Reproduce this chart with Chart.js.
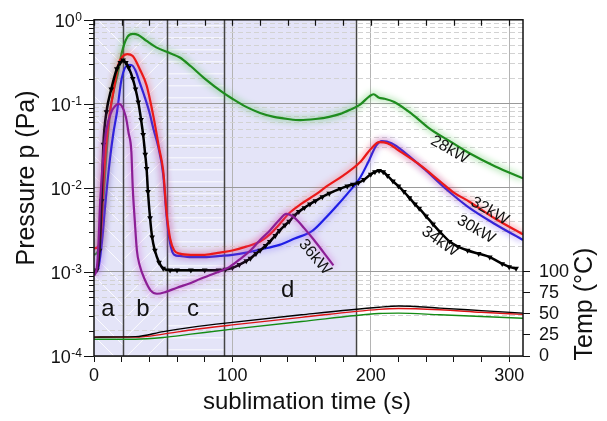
<!DOCTYPE html>
<html>
<head>
<meta charset="utf-8">
<script src="https://cdn.jsdelivr.net/npm/chart.js@4.4.0/dist/chart.umd.min.js"></script>
<style>
  html, body { margin: 0; padding: 0; background: #fff; }
</style>
</head>
<body>
<canvas id="myChart" width="607" height="421"></canvas>
<script>
// ---- data ----
// 28kW (green)
var t28 = [0, 3, 5, 7, 9, 11.5, 14, 17, 20, 24, 28, 32, 38, 45, 55, 62, 70, 80, 93, 100, 110, 120, 130, 140, 149, 160, 170, 178, 185, 192, 199, 202, 206, 210, 217, 230, 243, 257, 271, 290, 310];
var p28 = [1.6e-3, 1.8e-3, 3e-3, 8e-3, 0.025, 0.075, 0.14, 0.22, 0.4, 0.62, 0.68, 0.66, 0.56, 0.47, 0.4, 0.356, 0.28, 0.2, 0.137, 0.115, 0.092, 0.078, 0.07, 0.066, 0.064, 0.066, 0.07, 0.076, 0.085, 0.097, 0.123, 0.13, 0.118, 0.115, 0.105, 0.075, 0.05, 0.036, 0.026, 0.018, 0.013];
// 30kW (blue)
var t30 = [0, 3, 6, 8, 11.5, 14, 16.6, 20, 24.5, 27, 30, 33, 36, 40, 43, 46, 50, 52.5, 55, 58, 62, 69, 80, 91, 100, 110, 120, 134, 145, 158, 168, 175, 183, 192, 198, 204, 208, 215, 225, 240, 255, 270, 290, 310];
var p30 = [1e-3, 1.1e-3, 2.5e-3, 6e-3, 0.022, 0.045, 0.08, 0.2, 0.29, 0.29, 0.25, 0.18, 0.13, 0.08, 0.05, 0.033, 0.0145, 4.5e-3, 2.2e-3, 1.6e-3, 1.55e-3, 1.5e-3, 1.5e-3, 1.55e-3, 1.6e-3, 1.7e-3, 1.85e-3, 2.1e-3, 2.5e-3, 3.1e-3, 4.5e-3, 6e-3, 8.5e-3, 0.013, 0.02, 0.032, 0.036, 0.034, 0.026, 0.016, 9.5e-3, 6e-3, 3.7e-3, 2.4e-3];
// 32kW (red)
var t32 = [0, 3, 5, 6.6, 9, 12, 14, 17.5, 21, 24, 28, 33, 38, 43, 47, 50, 52.5, 55, 58, 62, 70, 80, 91, 100, 110, 120, 127, 134, 141, 150, 160, 168, 180, 192, 200, 206, 212, 220, 235, 250, 260, 271, 290, 310];
var p32 = [1.9e-3, 2e-3, 3e-3, 0.01, 0.035, 0.09, 0.137, 0.29, 0.37, 0.39, 0.37, 0.26, 0.166, 0.07, 0.03, 0.016, 5e-3, 2.5e-3, 1.8e-3, 1.65e-3, 1.6e-3, 1.6e-3, 1.7e-3, 1.8e-3, 2e-3, 2.3e-3, 2.8e-3, 3.7e-3, 5e-3, 6.5e-3, 8.3e-3, 0.0104, 0.014, 0.02, 0.029, 0.035, 0.034, 0.028, 0.019, 0.012, 8.8e-3, 6.9e-3, 4.3e-3, 2.8e-3];
// 34kW (black, triangles)
var t34 = [0, 2, 4, 5.5, 6.8, 9, 12.5, 16.5, 19, 21, 23, 25, 28, 30, 32, 34, 35.5, 37, 38, 39, 40.5, 42, 44, 47, 50, 55, 60, 70, 80, 90, 95, 100, 105, 110, 113, 117, 120, 124, 127, 131, 134, 138, 141, 145, 148, 152, 156, 160, 165, 170, 178, 183, 187, 191, 195, 200, 203, 206, 209, 212, 216, 220, 224, 228, 232, 235, 240, 245, 250, 257, 263, 270, 278, 286, 295, 300, 305];
var p34 = [1e-3, 1.05e-3, 1.8e-3, 7e-3, 0.033, 0.08, 0.15, 0.26, 0.31, 0.33, 0.31, 0.27, 0.2, 0.15, 0.105, 0.065, 0.043, 0.025, 0.017, 9e-3, 4.4e-3, 2.6e-3, 1.8e-3, 1.3e-3, 1.1e-3, 1.05e-3, 1.05e-3, 1.05e-3, 1.05e-3, 1.05e-3, 1.07e-3, 1.12e-3, 1.22e-3, 1.35e-3, 1.45e-3, 1.65e-3, 1.8e-3, 2.05e-3, 2.3e-3, 2.7e-3, 3.1e-3, 3.6e-3, 4e-3, 4.7e-3, 5.2e-3, 5.8e-3, 6.4e-3, 7e-3, 7.8e-3, 8.6e-3, 9.8e-3, 0.0105, 0.011, 0.0115, 0.0125, 0.0145, 0.0155, 0.016, 0.0155, 0.014, 0.012, 0.0105, 9e-3, 7.6e-3, 6.4e-3, 5.7e-3, 4.6e-3, 3.7e-3, 3e-3, 2.3e-3, 2e-3, 1.8e-3, 1.65e-3, 1.5e-3, 1.25e-3, 1.15e-3, 1.1e-3];
// 36kW (purple)
var t36 = [0, 2, 3, 4.5, 7, 9, 12.5, 15, 17.5, 20, 23, 25, 27, 28, 29.5, 31, 33, 37, 41, 45.5, 52, 60, 69, 77, 85, 93, 98, 105, 113, 120, 127, 133, 139, 145, 152, 159, 166, 173];
var p36 = [9e-4, 1.1e-3, 1.8e-3, 7e-3, 0.027, 0.05, 0.08, 0.093, 0.1, 0.095, 0.07, 0.045, 0.027, 0.01, 4e-3, 1.8e-3, 1.2e-3, 7.9e-4, 6e-4, 5.5e-4, 5.8e-4, 6.5e-4, 7.3e-4, 8.3e-4, 9.3e-4, 1.05e-3, 1.15e-3, 1.4e-3, 1.8e-3, 2.4e-3, 3.1e-3, 4e-3, 4.9e-3, 4.4e-3, 3.3e-3, 2.4e-3, 1.7e-3, 1.2e-3];
// temperatures (right axis, °C)
var tTemp = [0, 30, 50, 70, 100, 150, 206, 220, 250, 280, 310];
var tempBlack = [22.5, 23, 29, 34, 40, 49, 58, 59.5, 57, 54, 51];
var tempRed = [22.5, 22.5, 26, 31, 37, 46, 55.5, 56.5, 55, 52, 49.5];
var tempGreen = [20, 20, 22, 26, 32, 41, 50.5, 51, 49, 47, 45];

// phases a-d, boundaries in seconds
var phaseBounds = [0, 21, 52.5, 94, 189];
var phaseNames = ['a', 'b', 'c', 'd'];

// axes ticks
var xTicks = [0, 20, 40, 60, 80, 100, 120, 140, 160, 180, 200, 220, 240, 260, 280, 300];
var xLabels = [0, 100, 200, 300];
var yDecades = [-4, -3, -2, -1, 0];
var tempTicks = [0, 25, 50, 75, 100];

var FONT = "'Liberation Sans', Arial, sans-serif";
Chart.defaults.font.family = FONT;
Chart.defaults.color = '#111';

function pts(t, v) {
    return t.map(function (x, i) { return {x: x, y: v[i]}; });
}
var yTicks = [];
yDecades.forEach(function (e) {
    var n = e === 0 ? 1 : 9;
    for (var m = 1; m <= n; m++) yTicks.push(m * Math.pow(10, e));
});
function isDecade(v) {
    var l = Math.log10(v);
    return Math.abs(l - Math.round(l)) < 1e-6;
}

// soft glow round the coloured curves
var haloPlugin = {
    id: 'halo',
    beforeDatasetDraw: function (chart, args) {
        var ds = chart.data.datasets[args.index];
        chart.ctx.save();
        if (ds.halo) {
            chart.ctx.shadowColor = ds.halo;
            chart.ctx.shadowBlur = 7;
        }
    },
    afterDatasetDraw: function (chart) {
        chart.ctx.restore();
    }
};

var decorPlugin = {
    id: 'decor',
    beforeDraw: function (chart) {
        var ctx = chart.ctx, a = chart.chartArea, xs = chart.scales.x;
        var px = phaseBounds.map(function (b) { return xs.getPixelForValue(b); });
        ctx.save();
        ctx.fillStyle = 'rgb(228,228,248)';
        ctx.fillRect(px[0], a.top, px[4] - px[0], a.bottom - a.top);
        ctx.strokeStyle = 'rgba(255,255,255,0.85)';
        ctx.lineWidth = 1;
        var h = a.bottom - a.top, k;
        // region a: "\" hatch
        ctx.save();
        ctx.beginPath(); ctx.rect(px[0], a.top, px[1] - px[0], h); ctx.clip();
        ctx.beginPath();
        for (k = -h; k < px[1] - px[0]; k += 20) {
            ctx.moveTo(px[0] + k, a.top); ctx.lineTo(px[0] + k + h, a.bottom);
        }
        ctx.stroke(); ctx.restore();
        // region b: "/" hatch
        ctx.save();
        ctx.beginPath(); ctx.rect(px[1], a.top, px[2] - px[1], h); ctx.clip();
        ctx.beginPath();
        for (k = 0; k < px[2] - px[1] + h; k += 20) {
            ctx.moveTo(px[1] + k, a.top); ctx.lineTo(px[1] + k - h, a.bottom);
        }
        ctx.stroke(); ctx.restore();
        // region c: horizontal lines
        ctx.beginPath();
        for (k = a.top + 6; k < a.bottom; k += 12) {
            ctx.moveTo(px[2], k); ctx.lineTo(px[3], k);
        }
        ctx.stroke();
        ctx.restore();
    },
    beforeDatasetsDraw: function (chart) {
        var ctx = chart.ctx, a = chart.chartArea, xs = chart.scales.x;
        ctx.save();
        ctx.strokeStyle = '#444';
        ctx.lineWidth = 1.5;
        ctx.beginPath();
        phaseBounds.slice(1).forEach(function (b) {
            var x = Math.round(xs.getPixelForValue(b)) + 0.5;
            ctx.moveTo(x, a.top); ctx.lineTo(x, a.bottom);
        });
        ctx.stroke();
        ctx.restore();
    },
    afterDraw: function (chart) {
        var ctx = chart.ctx, a = chart.chartArea, xs = chart.scales.x, ys = chart.scales.y;
        ctx.save();
        // frame
        ctx.strokeStyle = '#111';
        ctx.lineWidth = 1.5;
        ctx.strokeRect(a.left, a.top, a.right - a.left, a.bottom - a.top);
        // left ticks (outside) and top ticks (inside)
        ctx.lineWidth = 1.2;
        ctx.beginPath();
        yTicks.forEach(function (v) {
            var y = Math.round(ys.getPixelForValue(v)) + 0.5;
            var len = isDecade(v) ? 10 : 5;
            ctx.moveTo(a.left - len, y); ctx.lineTo(a.left, y);
        });
        xTicks.forEach(function (v) {
            var x = Math.round(xs.getPixelForValue(v)) + 0.5;
            ctx.moveTo(x, a.top); ctx.lineTo(x, a.top + 6);
        });
        ctx.stroke();
        // decade labels with superscripts
        ctx.fillStyle = '#111';
        yDecades.forEach(function (e) {
            var y = ys.getPixelForValue(Math.pow(10, e));
            var sup = String(e);
            ctx.font = '12px ' + FONT;
            var sw = ctx.measureText(sup).width;
            ctx.textAlign = 'right';
            ctx.textBaseline = 'alphabetic';
            ctx.fillText(sup, 82, y + 1);
            ctx.font = '18px ' + FONT;
            ctx.textBaseline = 'middle';
            ctx.fillText('10', 82 - sw - 0.5, y + 2);
        });
        // phase letters
        ctx.font = '24px ' + FONT;
        ctx.textAlign = 'center';
        ctx.textBaseline = 'middle';
        var letterPos = [[10, 3.6e-4], [35.4, 3.6e-4], [71.5, 3.6e-4], [140, 6e-4]];
        phaseNames.forEach(function (n, i) {
            ctx.fillText(n, xs.getPixelForValue(letterPos[i][0]), ys.getPixelForValue(letterPos[i][1]));
        });
        // curve labels
        var curveLabels = [
            ['28kW', 257, 0.0284, 30],
            ['32kW', 286, 5.3e-3, 30],
            ['30kW', 276, 3.2e-3, 30],
            ['34kW', 250, 2.3e-3, 35],
            ['36kW', 159.6, 1.5e-3, 50]
        ];
        ctx.font = '16px ' + FONT;
        curveLabels.forEach(function (l) {
            ctx.save();
            ctx.translate(xs.getPixelForValue(l[1]), ys.getPixelForValue(l[2]));
            ctx.rotate(l[3] * Math.PI / 180);
            ctx.fillText(l[0], 0, 0);
            ctx.restore();
        });
        // axis titles
        ctx.font = '24px ' + FONT;
        ctx.fillText('sublimation time (s)', 307, 402);
        ctx.font = '25px ' + FONT;
        ctx.save();
        ctx.translate(27, 178);
        ctx.rotate(-Math.PI / 2);
        ctx.fillText('Pressure p (Pa)', 0, 0);
        ctx.restore();
        ctx.save();
        ctx.translate(585, 304);
        ctx.rotate(-Math.PI / 2);
        ctx.fillText('Temp (\u00B0C)', 0, 0);
        ctx.restore();
        ctx.restore();
    }
};

var ctx = document.getElementById('myChart').getContext('2d');
var chart = new Chart(ctx, {
    type: 'line',
    data: {
        datasets: [
            {label: '36kW', data: pts(t36, p36), borderColor: 'rgb(140,30,150)', halo: 'rgba(200,80,210,1)', borderWidth: 2.2},
            {label: '34kW', data: pts(t34, p34), borderColor: '#000', backgroundColor: '#000', borderWidth: 2.5,
                pointStyle: 'triangle', pointRotation: 180, pointRadius: 3.3, pointBorderWidth: 0},
            {label: '32kW', data: pts(t32, p32), borderColor: 'rgb(235,25,25)', halo: 'rgba(255,90,90,1)', borderWidth: 2.2},
            {label: '30kW', data: pts(t30, p30), borderColor: 'rgb(30,30,230)', halo: 'rgba(120,100,255,1)', borderWidth: 2.2},
            {label: '28kW', data: pts(t28, p28), borderColor: 'rgb(30,140,30)', halo: 'rgba(70,190,70,1)', borderWidth: 2.2},
            {label: 'T 34kW', data: pts(tTemp, tempBlack), borderColor: '#000', borderWidth: 1.4, yAxisID: 'y2'},
            {label: 'T 32kW', data: pts(tTemp, tempRed), borderColor: 'rgb(220,20,20)', borderWidth: 1.4, yAxisID: 'y2'},
            {label: 'T 28kW', data: pts(tTemp, tempGreen), borderColor: 'rgb(20,140,20)', borderWidth: 1.4, yAxisID: 'y2'}
        ]
    },
    options: {
        responsive: false,
        animation: false,
        layout: {padding: {top: 17, left: 0, right: 0, bottom: 0}},
        elements: {
            point: {radius: 0},
            line: {cubicInterpolationMode: 'monotone', fill: false}
        },
        plugins: {legend: {display: false}, tooltip: {enabled: false}},
        scales: {
            x: {
                type: 'linear', min: 0, max: 310, position: 'bottom',
                afterFit: function (s) { s.height = 65; },
                afterBuildTicks: function (s) { s.ticks = xTicks.map(function (v) { return {value: v}; }); },
                ticks: {
                    autoSkip: false, maxRotation: 0, padding: 3, font: {size: 18}, color: '#111',
                    callback: function (v) { return xLabels.indexOf(v) >= 0 ? String(v) : ''; }
                },
                grid: {
                    color: function (c) { return (c.tick && c.tick.value > 0 && xLabels.indexOf(c.tick.value) >= 0) ? '#b4b4b4' : 'rgba(0,0,0,0)'; },
                    tickColor: '#111', tickLength: 6, lineWidth: 1
                },
                border: {display: false}
            },
            y: {
                type: 'logarithmic', min: 1e-4, max: 1, position: 'left',
                afterFit: function (s) { s.width = 94; },
                afterBuildTicks: function (s) { s.ticks = yTicks.map(function (v) { return {value: v}; }); },
                ticks: {display: false},
                grid: {
                    drawTicks: false, lineWidth: 1,
                    color: function (c) { return (c.tick && isDecade(c.tick.value)) ? '#9a9a9a' : '#d2d2d2'; }
                },
                border: {
                    display: false,
                    dash: function (c) { return (c.tick && !isDecade(c.tick.value)) ? [5, 3] : []; }
                }
            },
            y2: {
                type: 'linear', min: 0, max: 400, position: 'right',
                afterFit: function (s) { s.width = 84; },
                afterBuildTicks: function (s) { s.ticks = tempTicks.map(function (v) { return {value: v}; }); },
                ticks: {font: {size: 18}, color: '#111', padding: 9},
                grid: {drawOnChartArea: false, tickLength: 7, tickColor: '#111'},
                border: {display: false}
            }
        }
    },
    plugins: [decorPlugin, haloPlugin]
});
</script>
</body>
</html>
